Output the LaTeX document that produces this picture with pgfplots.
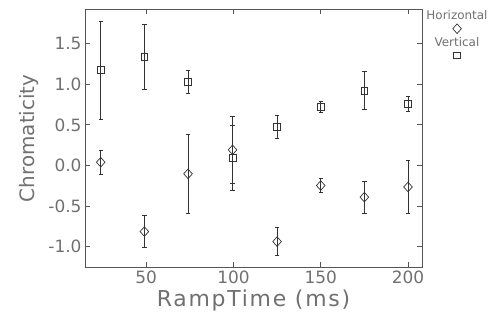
\documentclass[border=0pt]{standalone}
\usepackage{fontspec}
\setmainfont{DejaVu Sans}
\usepackage{pgfplots}
\usepackage{pgfplotstable}
\pgfplotsset{compat=1.18}
\definecolor{txt}{HTML}{707070}
\definecolor{ax}{HTML}{555555}
\definecolor{dat}{HTML}{333333}

\pgfplotstableread{
x y e
24 0.040 0.145
49 -0.814 0.197
74 -0.103 0.488
99.5 0.192 0.41
125 -0.937 0.17
150 -0.247 0.085
175 -0.390 0.195
200 -0.265 0.33
}\horiz

\pgfplotstableread{
x y e
24 1.174 0.605
49 1.341 0.40
74 1.033 0.14
99.5 0.090 0.40
125 0.472 0.145
150 0.718 0.065
175 0.922 0.23
200 0.755 0.09
}\vert

\begin{document}
\begin{tikzpicture}
\begin{axis}[
  scale only axis, width=337bp, height=257.5bp,
  xmin=15, xmax=208, ymin=-1.25, ymax=1.92,
  xtick={50,100,150,200}, ytick={-1,-0.5,0,0.5,1,1.5},
  yticklabel style={/pgf/number format/.cd, fixed, fixed zerofill, precision=1},
  /pgf/number format/assume math mode=true,
  tick align=inside, major tick length=5bp,
  axis line style={ax, line width=0.8bp},
  tick style={ax, line width=0.8bp},
  ticklabel style={font=\fontsize{17}{20}\selectfont, text=txt},
  xlabel style={font=\fontsize{22}{26}\selectfont\addfontfeatures{LetterSpace=8}, text=txt},
  ylabel style={font=\fontsize{20}{24}\selectfont, text=txt, yshift=3bp},
  xlabel={RampTime (ms)}, ylabel={Chromaticity},
  legend style={at={(1,1)}, anchor=north, xshift=35bp, yshift=-1.2bp,
    draw=none, fill=none, inner sep=0pt, column sep=0pt, row sep=16bp,
    font=\fontsize{12}{14}\selectfont, text=txt,
    nodes={inner sep=0pt}, cells={anchor=center}},
  legend image code/.code={\draw[#1,overlay] plot coordinates {(30.6bp,-12.5bp)};},
]
\addplot[dat, only marks, mark=diamond, mark size=4.8bp, line width=0.7bp,
  mark options={xscale=1.2},
  error bars/.cd, y dir=both, y explicit,
  error bar style={dat, line width=0.8bp},
  error mark options={rotate=90, mark size=2.2bp, dat, line width=0.8bp}]
  table[x=x, y=y, y error=e] {\horiz};
\addlegendentry{Horizontal}
\addplot[dat, only marks, mark=square, mark size=3.4bp, line width=0.7bp,
  error bars/.cd, y dir=both, y explicit,
  error bar style={dat, line width=0.8bp},
  error mark options={rotate=90, mark size=2.2bp, dat, line width=0.8bp}]
  table[x=x, y=y, y error=e] {\vert};
\addlegendentry{Vertical}
\end{axis}
\pgfresetboundingbox
\path (current axis.south west) ++(-85bp,-54bp) rectangle ++(490bp,321bp);
\end{tikzpicture}
\end{document}
